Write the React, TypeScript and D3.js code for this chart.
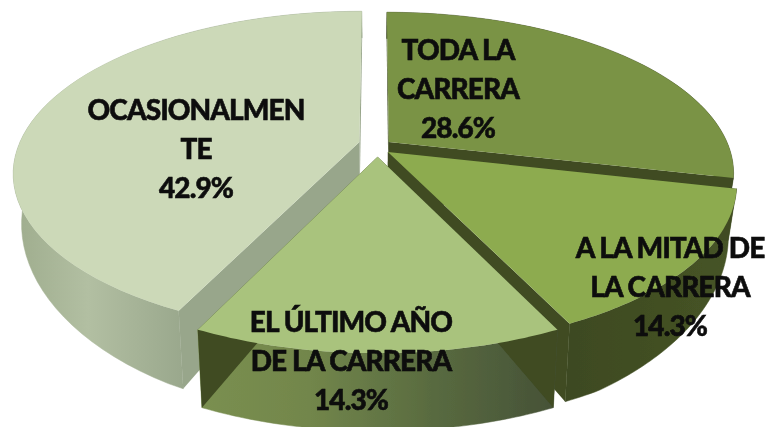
import React from "react";
import * as d3 from "d3";

const categories = ["TODA LA CARRERA", "A LA MITAD DE LA CARRERA", "EL ÚLTIMO AÑO DE LA CARRERA", "OCASIONALMENTE"];
const values = [28.6, 14.3, 14.3, 42.9];
const percentLabels = ["28.6%", "14.3%", "14.3%", "42.9%"];
const labelLines = [
  ["TODA LA", "CARRERA"],
  ["A LA MITAD DE", "LA CARRERA"],
  ["EL ÚLTIMO AÑO", "DE LA CARRERA"],
  ["OCASIONALMEN", "TE"],
];
const topColors = ["#7a9344", "#8dab50", "#a9c37d", "#ccd9b8"];
const sideColors = ["#3f4b22", "#3f4b22", "#3f4b22", "#98a68b"];
const drawOrder = [0, 3, 1, 2];

// layout of the projection
const W = 775, H = 427;
const CX = 377.6, CY = 147.5, RX = 340, RY = 156, K = 0.19, EXPLODE = 0.046;
const nudges = [[-1, -1], [-2, 0], [0, 2], [-3, -4]];
const labelCenters = [[458, 60], [670, 258], [351, 332], [196, 120]];
const LINE = 39;

type Pt = [number, number];
const s = (Y: number) => 1 / (1 - K * Y);
const top = (X: number, Y: number, n: number[]): Pt => [
  CX + RX * X * s(Y) + n[0],
  CY + RY * Y * s(Y) + n[1],
];
const wallH = (Y: number) => Math.min(78, 45 * Math.pow(s(Y), 3));
const bottom = (X: number, Y: number, n: number[]): Pt => {
  const p = top(X, Y, n);
  return [CX + (p[0] - CX) * 0.977, p[1] + wallH(Y)];
};

const pieGen = d3.pie<number>().sort(null).value((d) => d);
const line = d3.line<Pt>();
const path = (pts: Pt[]) => line(pts) + "Z";

export default function App() {
  const arcs = pieGen(values);
  const shapes = arcs.map((a, i) => {
    const mid = (a.startAngle + a.endAngle) / 2;
    const ox = Math.sin(mid) * EXPLODE;
    const oy = -Math.cos(mid) * EXPLODE;
    const n = nudges[i];
    const steps = d3.range(0, 61).map((t) => a.startAngle + ((a.endAngle - a.startAngle) * t) / 60);
    const rim = steps.map((t) => [ox + Math.sin(t), oy - Math.cos(t)] as Pt);
    const rimTop = rim.map(([x, y]) => top(x, y, n));
    const rimBot = rim.map(([x, y]) => bottom(x, y, n));
    const apexT = top(ox, oy, n);
    const apexB = bottom(ox, oy, n);
    const last = rim.length - 1;
    return {
      i,
      topFace: path([apexT, ...rimTop]),
      wall: path([...rimTop, ...rimBot.slice().reverse()]),
      cutStart: path([apexT, rimTop[0], rimBot[0], apexB]),
      cutEnd: path([apexT, rimTop[last], rimBot[last], apexB]),
    };
  });

  const wallFill = ["#3f4b22", "url(#wallB)", "url(#wallC)", "url(#wallD)"];

  return (
    <svg
      width={W}
      height={H}
      viewBox={`0 0 ${W} ${H}`}
      style={{ position: "absolute", left: 0, top: 0, background: "#fff" }}
    >
      <defs>
        <linearGradient id="wallC" gradientUnits="userSpaceOnUse" x1={205} x2={553} y1={0} y2={0}>
          <stop offset="0" stopColor="#7a8f50" />
          <stop offset="0.3" stopColor="#72864b" />
          <stop offset="0.65" stopColor="#596b40" />
          <stop offset="1" stopColor="#465237" />
        </linearGradient>
        <linearGradient id="wallB" gradientUnits="userSpaceOnUse" x1={560} x2={735} y1={0} y2={0}>
          <stop offset="0" stopColor="#3d4920" />
          <stop offset="1" stopColor="#465426" />
        </linearGradient>
        <linearGradient id="wallD" gradientUnits="userSpaceOnUse" x1={20} x2={190} y1={0} y2={0}>
          <stop offset="0" stopColor="#a0ae8f" />
          <stop offset="0.4" stopColor="#b2bfa2" />
          <stop offset="1" stopColor="#98a68b" />
        </linearGradient>
        <filter id="soft" x="-5%" y="-5%" width="110%" height="110%">
          <feGaussianBlur stdDeviation="0.5" />
        </filter>
      </defs>
      <g filter="url(#soft)">
        {drawOrder.map((idx) => {
          const sh = shapes[idx];
          return (
            <g key={categories[idx]}>
              <path d={sh.wall} fill={wallFill[idx]} stroke={wallFill[idx]} strokeWidth={0.5} />
              <path d={sh.cutStart} fill={sideColors[idx]} />
              <path d={sh.cutEnd} fill={sideColors[idx]} />
              <path d={sh.topFace} fill={topColors[idx]} />
            </g>
          );
        })}
      </g>
      <g
        filter="url(#soft)"
        fontFamily="Lato, sans-serif"
        fontWeight={900}
        fontSize={28}
        letterSpacing={-0.9}
        textAnchor="middle"
        fill="#0a0a0a"
        stroke="#0a0a0a"
        strokeWidth={0.5}
      >
        {categories.map((c, i) => {
          const [x, y] = labelCenters[i];
          const lines = [...labelLines[i], percentLabels[i]];
          return (
            <text key={c}>
              {lines.map((l, j) => (
                <tspan key={j} x={x} y={y + j * LINE}>
                  {l}
                </tspan>
              ))}
            </text>
          );
        })}
      </g>
    </svg>
  );
}
